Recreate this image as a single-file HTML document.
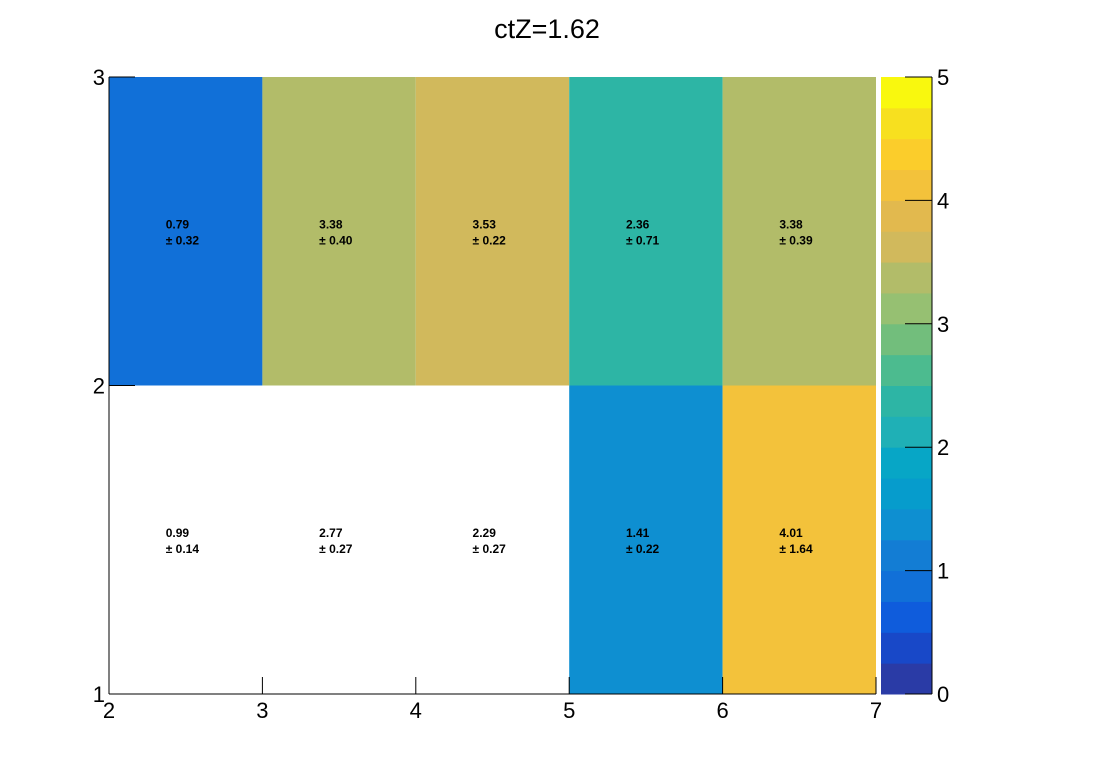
<!DOCTYPE html>
<html><head><meta charset="utf-8"><style>
body{margin:0;background:#fff;width:1096px;height:772px;overflow:hidden}
svg text{font-family:"Liberation Sans",sans-serif}
</style></head><body>
<svg id="chart" width="1096" height="772">
<text x="547" y="38" font-size="27" text-anchor="middle">ctZ=1.62</text>
<g id="cells"></g>
<g id="axes"></g>
<g id="palette"></g>
</svg>
<script>
const xEdges=[2,3,4,5,6,7];
const yEdges=[1,2,3];
const values=[[0.99,2.77,2.29,1.41,4.01],[0.79,3.38,3.53,2.36,3.38]];
const errors=[[0.14,0.27,0.27,0.22,1.64],[0.32,0.40,0.22,0.71,0.39]];
const filled=[[false,false,false,true,true],[true,true,true,true,true]];
const zTicks=[0,1,2,3,4,5];
const colors=["#2a3ba6","#1848c8","#0f5cdc","#1170d8","#137dd4","#0e8fd1","#069ccc","#07a6c6","#1fb0b6","#2db5a5","#4cbb8f","#72be7c","#96c072","#b2bc69","#d1b95c","#e2b94e","#f3c23b","#fbcd2b","#f7e01f","#f9f80e"];
const NS="http://www.w3.org/2000/svg";
const X0=109,X1=876,Y0=694,Y1=77,zMin=0,zMax=5;
const sx=v=>X0+(v-2)/(7-2)*(X1-X0);
const sy=v=>Y0-(v-1)/(3-1)*(Y0-Y1);
const pz=v=>Y0-(v-zMin)/(zMax-zMin)*(Y0-Y1);
function mk(t,a,p){const e=document.createElementNS(NS,t);for(const k in a)e.setAttribute(k,a[k]);p.appendChild(e);return e;}
function col(v){let i=Math.floor((v-zMin)/(zMax-zMin)*colors.length);i=Math.max(0,Math.min(colors.length-1,i));return colors[i];}
const cells=document.getElementById('cells');
for(let j=0;j<yEdges.length-1;j++)for(let i=0;i<xEdges.length-1;i++){
 const x=sx(xEdges[i]),x2=sx(xEdges[i+1]),y=sy(yEdges[j+1]),y2=sy(yEdges[j]);
 if(filled[j][i]){const r=mk('rect',{x:x,y:y,width:x2-x,height:y2-y,fill:col(values[j][i])},cells);
 
 }
 const cx=x+(x2-x)*0.37,cy=(y+y2)/2;
 const t=mk('text',{x:cx,y:cy-3,'font-size':12,'font-weight':'bold'},cells);t.textContent=values[j][i].toFixed(2);
 
 
 const t2=mk('text',{x:cx,y:cy+13,'font-size':12,'font-weight':'bold'},cells);t2.textContent="± "+errors[j][i].toFixed(2);
 
 
}
const ax=document.getElementById('axes');
mk('line',{x1:X0,y1:Y0,x2:X1,y2:Y0,stroke:'#000'},ax);
mk('line',{x1:X0,y1:Y0,x2:X0,y2:Y1,stroke:'#000'},ax);
xEdges.forEach(v=>{const x=sx(v);mk('line',{x1:x,y1:Y0,x2:x,y2:Y0-17,stroke:'#000'},ax);
 const t=mk('text',{x:x,y:Y0+24,'font-size':22,'text-anchor':'middle'},ax);t.textContent=v;
 
 });
yEdges.forEach(v=>{const y=sy(v);mk('line',{x1:X0,y1:y,x2:X0+26,y2:y,stroke:'#000'},ax);
 const t=mk('text',{x:X0-4,y:y+8,'font-size':22,'text-anchor':'end'},ax);t.textContent=v;
 
 });
const pal=document.getElementById('palette');
const PX0=881,PX1=932;
colors.forEach((c,i)=>{const v0=zMin+i*(zMax-zMin)/colors.length,v1=zMin+(i+1)*(zMax-zMin)/colors.length;
 const r=mk('rect',{x:PX0,y:pz(v1),width:PX1-PX0,height:pz(v0)-pz(v1)+0.5,fill:c},pal);
 
 });
mk('line',{x1:PX1,y1:Y0,x2:PX1,y2:Y1,stroke:'#000'},pal);
zTicks.forEach(v=>{const y=pz(v);mk('line',{x1:PX1-27,y1:y,x2:PX1,y2:y,stroke:'#000'},pal);
 const t=mk('text',{x:PX1+5,y:y+8,'font-size':22},pal);t.textContent=v;
 
 });
</script>
</body></html>
